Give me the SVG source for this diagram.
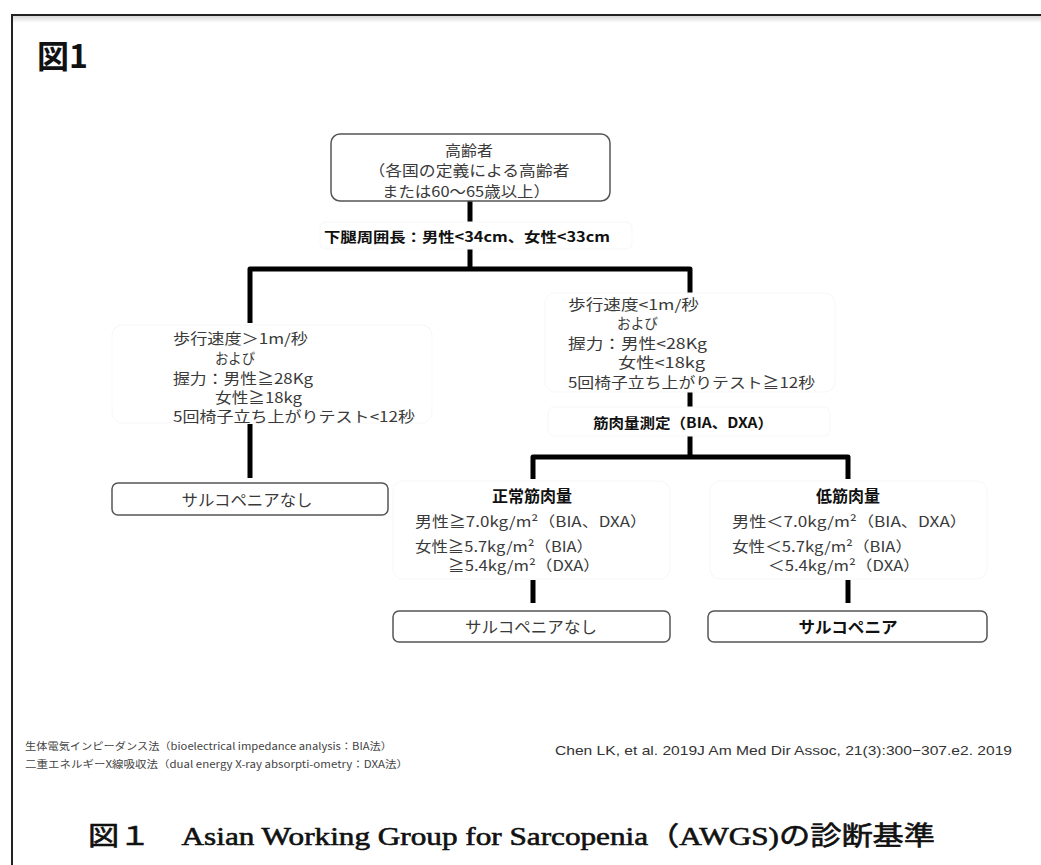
<svg xmlns="http://www.w3.org/2000/svg" width="1041" height="865" viewBox="0 0 1041 865">
<defs>
<linearGradient id="shadow" x1="0" y1="0" x2="0" y2="1">
<stop offset="0" stop-color="#d8d8d8"/>
<stop offset="1" stop-color="#ffffff"/>
</linearGradient>
</defs>
<style>
.t{font-family:"Noto Sans CJK JP","Noto Sans",sans-serif;font-size:14.5px;fill:#3a3a3a;dominant-baseline:central}
.b{font-family:"Noto Sans CJK JP","Noto Sans",sans-serif;font-size:14px;font-weight:700;fill:#111;dominant-baseline:central}
.box{fill:#fff;stroke:#555;stroke-width:1.5}
.faint{fill:#fff;stroke:#f7f7f7;stroke-width:1}
.c{fill:none;stroke:#000;stroke-width:5;stroke-linejoin:round}
.small{font-family:"Noto Sans CJK JP","Noto Sans",sans-serif;font-size:10px;fill:#444;dominant-baseline:central}
</style>
<rect width="1041" height="865" fill="#fff"/>
<g id="frame">
<rect x="12" y="16" width="1029" height="7" fill="url(#shadow)"/>
<line x1="11" y1="15" x2="1041" y2="15" stroke="#222" stroke-width="2"/>
<line x1="12" y1="14" x2="12" y2="865" stroke="#222" stroke-width="2"/>
</g>
<text x="37" y="54" style="font-family:'Noto Sans CJK JP',sans-serif;font-size:32px;font-weight:700;fill:#111;dominant-baseline:central">図1</text>

<g id="connectors">
<line class="c" x1="470" y1="201" x2="470" y2="222"/>
<polyline class="c" points="250,323 250,269 690,269 690,293"/>
<line class="c" x1="470" y1="249" x2="470" y2="269"/>
<line class="c" x1="250" y1="424" x2="250" y2="478"/>
<line class="c" x1="690" y1="392" x2="690" y2="408"/>
<line class="c" x1="690" y1="436" x2="690" y2="458"/>
<polyline class="c" points="533,479 533,457 848,457 848,479"/>
<line class="c" x1="533" y1="580" x2="533" y2="603"/>
<line class="c" x1="848" y1="580" x2="848" y2="603"/>
</g>

<g id="n-elderly">
<rect class="box" x="331" y="134" width="279" height="67" rx="9"/>
<text class="t" x="469" y="149" text-anchor="middle" style="font-size:15px" textLength="48" lengthAdjust="spacingAndGlyphs">高齢者</text>
<text class="t" x="469" y="169.5" text-anchor="middle" textLength="201" lengthAdjust="spacingAndGlyphs" style="font-size:15px">（各国の定義による高齢者</text>
<text class="t" x="382" y="190" textLength="168" lengthAdjust="spacingAndGlyphs" style="font-size:15px">または60～65歳以上）</text>
</g>

<g id="n-calf">
<rect class="faint" x="320" y="222" width="312" height="27" rx="6"/>
<text class="b" x="324" y="236" textLength="286" lengthAdjust="spacingAndGlyphs">下腿周囲長：男性&lt;34cm、女性&lt;33cm</text>
</g>

<g id="n-normal-func">
<rect class="faint" x="112" y="325" width="320" height="98" rx="10"/>
<text class="t" x="173" y="337" textLength="135" lengthAdjust="spacingAndGlyphs">歩行速度＞1m/秒</text>
<text class="t" x="215" y="357" textLength="40" lengthAdjust="spacingAndGlyphs">および</text>
<text class="t" x="173" y="377" textLength="140" lengthAdjust="spacingAndGlyphs">握力：男性≧28Kg</text>
<text class="t" x="215" y="396" textLength="87" lengthAdjust="spacingAndGlyphs">女性≧18kg</text>
<text class="t" x="173" y="415" textLength="242" lengthAdjust="spacingAndGlyphs">5回椅子立ち上がりテスト&lt;12秒</text>
</g>

<g id="n-no-sarco-1">
<rect class="box" x="112" y="483" width="276" height="32" rx="6"/>
<text class="t" x="247" y="499" text-anchor="middle" textLength="131" lengthAdjust="spacingAndGlyphs" style="font-size:16px">サルコペニアなし</text>
</g>

<g id="n-low-func">
<rect class="faint" x="545" y="293" width="290" height="99" rx="10"/>
<text class="t" x="568" y="303" textLength="131" lengthAdjust="spacingAndGlyphs">歩行速度&lt;1m/秒</text>
<text class="t" x="617" y="322" textLength="41" lengthAdjust="spacingAndGlyphs">および</text>
<text class="t" x="568" y="342" textLength="139" lengthAdjust="spacingAndGlyphs">握力：男性&lt;28Kg</text>
<text class="t" x="618" y="361" textLength="87" lengthAdjust="spacingAndGlyphs">女性&lt;18kg</text>
<text class="t" x="568" y="381" textLength="247" lengthAdjust="spacingAndGlyphs">5回椅子立ち上がりテスト≧12秒</text>
</g>

<g id="n-measure">
<rect class="faint" x="548" y="407" width="282" height="29" rx="6"/>
<text class="b" x="593" y="422" textLength="180" lengthAdjust="spacingAndGlyphs">筋肉量測定（BIA、DXA）</text>
</g>

<g id="n-normal-mass">
<rect class="faint" x="393" y="481" width="277" height="98" rx="10"/>
<text class="b" x="532" y="495" text-anchor="middle" style="font-size:16px">正常筋肉量</text>
<text class="t" x="415" y="520" textLength="232" lengthAdjust="spacingAndGlyphs">男性≧7.0kg/m²（BIA、DXA）</text>
<text class="t" x="415" y="545" textLength="178" lengthAdjust="spacingAndGlyphs">女性≧5.7kg/m²（BIA）</text>
<text class="t" x="448" y="564" textLength="152" lengthAdjust="spacingAndGlyphs">≧5.4kg/m²（DXA）</text>
</g>

<g id="n-low-mass">
<rect class="faint" x="710" y="481" width="277" height="98" rx="10"/>
<text class="b" x="848" y="495" text-anchor="middle" style="font-size:16px">低筋肉量</text>
<text class="t" x="732" y="520" textLength="235" lengthAdjust="spacingAndGlyphs">男性＜7.0kg/m²（BIA、DXA）</text>
<text class="t" x="732" y="545" textLength="180" lengthAdjust="spacingAndGlyphs">女性＜5.7kg/m²（BIA）</text>
<text class="t" x="768" y="564" textLength="152" lengthAdjust="spacingAndGlyphs">＜5.4kg/m²（DXA）</text>
</g>

<g id="n-no-sarco-2">
<rect class="box" x="393" y="611" width="277" height="31" rx="6"/>
<text class="t" x="531" y="626" text-anchor="middle" textLength="132" lengthAdjust="spacingAndGlyphs" style="font-size:16px">サルコペニアなし</text>
</g>

<g id="n-sarco">
<rect class="box" x="708" y="611" width="279" height="31" rx="6"/>
<text class="b" x="848" y="626" text-anchor="middle" style="font-size:16px" textLength="99" lengthAdjust="spacingAndGlyphs">サルコペニア</text>
</g>

<g id="notes">
<text class="small" x="25" y="745" textLength="367" lengthAdjust="spacingAndGlyphs">生体電気インピーダンス法（bioelectrical impedance analysis：BIA法）</text>
<text class="small" x="25" y="763" textLength="383" lengthAdjust="spacingAndGlyphs">二重エネルギーX線吸収法（dual energy X-ray absorpti-ometry：DXA法）</text>
<text x="555" y="750" style="font-family:'Liberation Sans','Noto Sans CJK JP',sans-serif;font-size:13px;fill:#333;dominant-baseline:central" textLength="457" lengthAdjust="spacingAndGlyphs">Chen LK, et al. 2019J Am Med Dir Assoc, 21(3):300−307.e2. 2019</text>
</g>

<text x="88" y="845" style="font-family:'Liberation Serif','Noto Sans CJK JP',serif;font-size:26px;font-weight:400;fill:#111;stroke:#111;stroke-width:0.6" textLength="847" lengthAdjust="spacingAndGlyphs">図１　Asian Working Group for Sarcopenia（AWGS)の診断基準</text>
</svg>
